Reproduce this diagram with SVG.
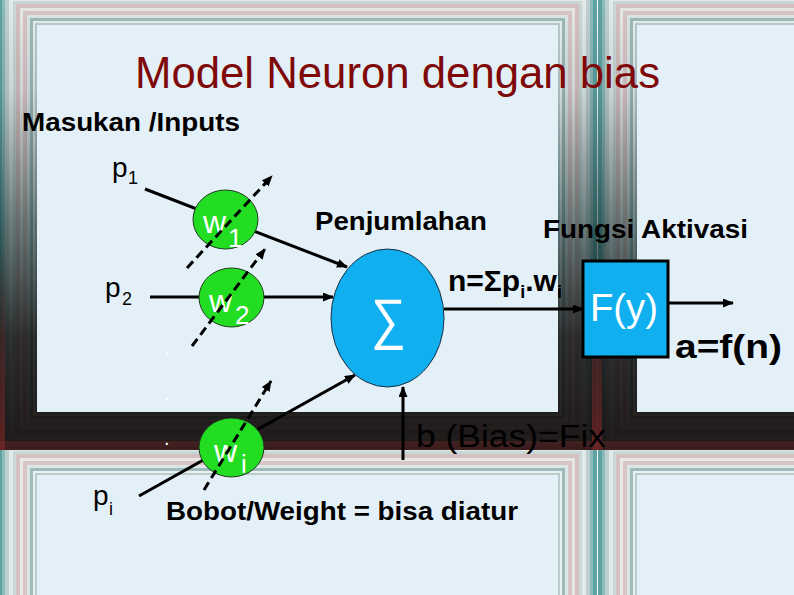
<svg xmlns="http://www.w3.org/2000/svg" xmlns:xlink="http://www.w3.org/1999/xlink" width="794" height="595" viewBox="0 0 794 595">
<defs>
<style>
.t{font-family:"Liberation Sans",Arial,sans-serif;}
.b{font-weight:bold;}
.blk{fill:#000;}
.wh{fill:#fff;}
.pane{fill:#E4F0F8;}
.solid{stroke:#000;stroke-width:3;fill:none;marker-end:url(#ah);}
.dash{stroke:#000;stroke-width:3;fill:none;stroke-dasharray:9 5;marker-end:url(#ah);}
.wnode{fill:#22DD22;stroke:#1F3A1F;stroke-width:1;}
.bnode{fill:#10B0F0;stroke:#1A2F45;stroke-width:1;}
</style>
<marker id="ah" markerUnits="userSpaceOnUse" markerWidth="11" markerHeight="9" refX="10" refY="4.5" orient="auto">
<path d="M0,0 L11,4.5 L0,9 z" fill="#000"/>
</marker>
<g id="rings">
<rect x="-39" y="-39" width="599" height="465" fill="#5EA3A4"/>
<rect x="-35" y="-35" width="591" height="457" fill="#8DB9B9"/>
<rect x="-32" y="-32" width="585" height="451" fill="#BDCFCF"/>
<rect x="-28" y="-28" width="577" height="443" fill="#E1E9E9"/>
<rect x="-24" y="-24" width="569" height="435" fill="#C9D7D7"/>
<rect x="-21" y="-21" width="563" height="429" fill="#D5C0C1"/>
<rect x="-17" y="-17" width="555" height="421" fill="#E6E8E8"/>
<rect x="-14" y="-14" width="549" height="415" fill="#D9C5C6"/>
<rect x="-10" y="-10" width="541" height="407" fill="#DCE6E6"/>
<rect x="-7" y="-7" width="535" height="401" fill="#9EBABA"/>
<rect x="-4" y="-4" width="529" height="395" fill="#E8F0F0"/>
<rect x="-2" y="-2" width="525" height="391" fill="#B8CCCC"/>
</g>
<clipPath id="cTL"><rect x="0" y="0" width="597" height="450"/></clipPath>
<clipPath id="cTR"><rect x="597" y="0" width="197" height="450"/></clipPath>
<clipPath id="cBL"><rect x="0" y="450" width="597" height="145"/></clipPath>
<clipPath id="cBR"><rect x="597" y="450" width="197" height="145"/></clipPath>
<linearGradient id="dark" gradientUnits="userSpaceOnUse" x1="0" y1="0" x2="0" y2="450">
<stop offset="0" stop-color="#0A1E1E" stop-opacity="0"/>
<stop offset="0.2" stop-color="#0A1E1E" stop-opacity="0.1"/>
<stop offset="0.5" stop-color="#0A2222" stop-opacity="0.55"/>
<stop offset="0.75" stop-color="#080808" stop-opacity="0.82"/>
<stop offset="1" stop-color="#0A0404" stop-opacity="0.9"/>
</linearGradient>
<linearGradient id="red" gradientUnits="userSpaceOnUse" x1="0" y1="250" x2="0" y2="440">
<stop offset="0" stop-color="#8A2A2A" stop-opacity="0"/>
<stop offset="1" stop-color="#8A2A2A" stop-opacity="0.6"/>
</linearGradient>
</defs>

<g id="background">
<g clip-path="url(#cTL)"><use xlink:href="#rings" x="37" y="25"/></g>
<g clip-path="url(#cTR)"><use xlink:href="#rings" x="637" y="25"/></g>
<g clip-path="url(#cBL)"><use xlink:href="#rings" x="37" y="475"/></g>
<g clip-path="url(#cBR)"><use xlink:href="#rings" x="637" y="475"/></g>
<rect x="0" y="0" width="794" height="450" fill="url(#dark)"/>
<rect x="0" y="250" width="5" height="200" fill="url(#red)"/>
<rect x="592" y="250" width="10" height="200" fill="url(#red)"/>
<rect x="0" y="441" width="794" height="9" fill="#7A2A2A" opacity="0.4"/>
<rect class="pane" x="37" y="25" width="521" height="387"/>
<rect class="pane" x="637" y="25" width="521" height="387"/>
<rect class="pane" x="37" y="475" width="521" height="387"/>
<rect class="pane" x="637" y="475" width="521" height="387"/>
</g>

<g id="labels">
<text class="t" x="135" y="88" font-size="43.5" fill="#7F0808" textLength="525" lengthAdjust="spacingAndGlyphs">Model Neuron dengan bias</text>
<text class="t b blk" x="22" y="131" font-size="26" textLength="218" lengthAdjust="spacingAndGlyphs">Masukan /Inputs</text>
<text class="t blk" x="112" y="177" font-size="28">p<tspan x="128" y="184" font-size="18">1</tspan></text>
<text class="t blk" x="105" y="297" font-size="28">p<tspan x="122" y="305" font-size="18">2</tspan></text>
<text class="t blk" x="93" y="505" font-size="28">p<tspan x="109" y="515" font-size="18">i</tspan></text>
<text class="t wh" x="164" y="355" font-size="20">.</text>
<text class="t wh" x="164" y="400" font-size="20">.</text>
<text class="t wh" x="164" y="445" font-size="20">.</text>
<text class="t b blk" x="315" y="230" font-size="26" textLength="172" lengthAdjust="spacingAndGlyphs">Penjumlahan</text>
<text class="t b blk" x="543" y="238" font-size="26" textLength="205" lengthAdjust="spacingAndGlyphs">Fungsi Aktivasi</text>
<text class="t b blk" x="448" y="291" font-size="30">n=Σp<tspan y="298" font-size="18">i</tspan><tspan y="291">.w</tspan><tspan y="298" font-size="18">i</tspan></text>
<text class="t b blk" x="675" y="358" font-size="34" textLength="107" lengthAdjust="spacingAndGlyphs">a=f(n)</text>
<text class="t blk" x="416" y="447" font-size="31" textLength="190" lengthAdjust="spacingAndGlyphs">b (Bias)=Fix</text>
<text class="t b blk" x="166" y="520" font-size="25" textLength="352" lengthAdjust="spacingAndGlyphs">Bobot/Weight = bisa diatur</text>
</g>

<g id="connectors">
<line class="solid" x1="145" y1="189" x2="347" y2="267"/>
<line class="solid" x1="150" y1="297" x2="333" y2="297"/>
<line class="solid" x1="139" y1="496" x2="355" y2="375"/>
<line class="solid" x1="444" y1="309" x2="583" y2="309"/>
<line class="solid" x1="668" y1="303" x2="733" y2="303"/>
<line class="solid" x1="403" y1="460" x2="403" y2="387"/>
</g>

<g id="node-w1">
<ellipse class="wnode" cx="225.5" cy="219.5" rx="32.5" ry="29.5"/>
<text class="t wh" x="203" y="233" font-size="32">w<tspan x="228" y="247" font-size="26">1</tspan></text>
</g>
<g id="node-w2">
<ellipse class="wnode" cx="231.5" cy="297.5" rx="32.5" ry="29.5"/>
<text class="t wh" x="209" y="312" font-size="32">w<tspan x="235" y="324" font-size="26">2</tspan></text>
</g>
<g id="node-wi">
<ellipse class="wnode" cx="231.5" cy="447.5" rx="32.5" ry="29.5"/>
<text class="t wh" x="214" y="462" font-size="32">w<tspan x="241" y="473" font-size="26">i</tspan></text>
</g>
<g id="node-sum">
<ellipse class="bnode" cx="387.5" cy="318" rx="56.5" ry="69"/>
<text class="t wh" x="371" y="338" font-size="56" textLength="35" lengthAdjust="spacingAndGlyphs">∑</text>
</g>
<g id="node-activation">
<rect x="583" y="261" width="85" height="96" fill="#10B0F0" stroke="#000" stroke-width="3"/>
<text class="t wh" x="590" y="321" font-size="38" textLength="68" lengthAdjust="spacingAndGlyphs">F(y)</text>
</g>

<g id="weight-adjust">
<line class="dash" x1="187" y1="268" x2="272" y2="176"/>
<line class="dash" x1="192" y1="346" x2="265" y2="249"/>
<line class="dash" x1="204" y1="490" x2="271" y2="381"/>
</g>
</svg>
